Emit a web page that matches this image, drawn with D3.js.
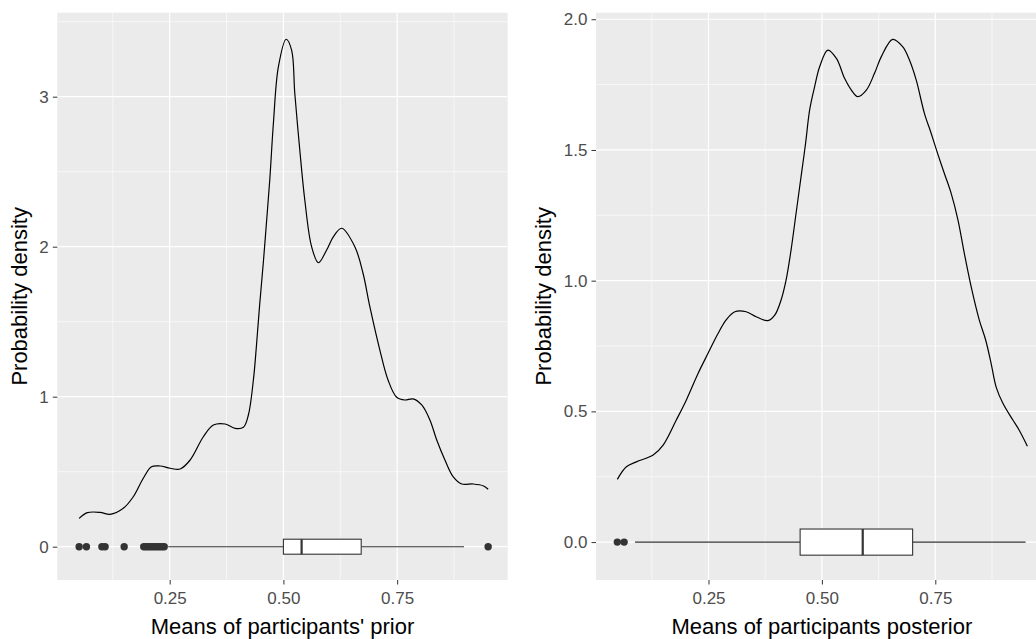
<!DOCTYPE html>
<html>
<head>
<meta charset="utf-8">
<script src="https://cdn.jsdelivr.net/npm/d3@7"></script>
<style>
	body { margin: 0; background: #fff; }
	svg { display: block; font-family: "Liberation Sans", Arial, sans-serif; }
	.axis text { fill: #4d4d4d; font-size: 17px; }
	.axis line { stroke: #333; }
	.axis path { display: none; }
	.title { fill: #000; font-size: 22px; }
</style>
</head>
<body>
<div id="chart"></div>
<script>

// left panel: participants' prior
var priorX = [0.051, 0.069, 0.097, 0.119, 0.148, 0.170, 0.192, 0.210, 0.229, 0.251, 0.273, 0.295, 0.324, 0.346, 0.372, 0.394, 0.412, 0.423, 0.434, 0.441, 0.448, 0.456, 0.463, 0.470, 0.478, 0.489, 0.506, 0.518, 0.525, 0.536, 0.547, 0.562, 0.577, 0.595, 0.610, 0.628, 0.657, 0.675, 0.690, 0.712, 0.730, 0.749, 0.767, 0.785, 0.804, 0.822, 0.837, 0.855, 0.873, 0.892, 0.917, 0.940, 0.950];
var priorDensity = [0.189, 0.227, 0.229, 0.216, 0.256, 0.333, 0.456, 0.533, 0.538, 0.523, 0.518, 0.578, 0.733, 0.811, 0.818, 0.789, 0.796, 0.878, 1.111, 1.350, 1.620, 1.900, 2.170, 2.445, 2.823, 3.200, 3.383, 3.311, 3.023, 2.645, 2.311, 2.000, 1.893, 1.978, 2.067, 2.123, 2.000, 1.823, 1.600, 1.311, 1.111, 0.996, 0.978, 0.985, 0.945, 0.845, 0.711, 0.578, 0.467, 0.418, 0.418, 0.405, 0.383];
var priorBox = [0.247, 0.500, 0.540, 0.671, 0.897]; // whisker low, q1, median, q3, whisker high
var priorOutliers = [0.051, 0.067, 0.101, 0.108, 0.150, 0.193, 0.198, 0.203, 0.208, 0.213, 0.218, 0.223, 0.228, 0.233, 0.238, 0.950];

// right panel: participants' posterior
var postX = [0.049, 0.069, 0.091, 0.128, 0.150, 0.179, 0.201, 0.227, 0.249, 0.271, 0.289, 0.308, 0.333, 0.355, 0.381, 0.396, 0.410, 0.421, 0.432, 0.443, 0.454, 0.464, 0.473, 0.484, 0.495, 0.513, 0.532, 0.550, 0.565, 0.579, 0.598, 0.616, 0.631, 0.656, 0.678, 0.693, 0.708, 0.726, 0.741, 0.755, 0.770, 0.785, 0.800, 0.814, 0.829, 0.847, 0.861, 0.873, 0.884, 0.899, 0.921, 0.935, 0.953];
var postDensity = [0.240, 0.288, 0.307, 0.333, 0.371, 0.467, 0.543, 0.645, 0.722, 0.798, 0.850, 0.881, 0.881, 0.862, 0.847, 0.868, 0.926, 1.002, 1.117, 1.257, 1.397, 1.525, 1.653, 1.742, 1.818, 1.882, 1.850, 1.774, 1.729, 1.704, 1.729, 1.793, 1.857, 1.923, 1.895, 1.844, 1.767, 1.640, 1.563, 1.487, 1.410, 1.334, 1.232, 1.104, 0.977, 0.849, 0.773, 0.684, 0.594, 0.531, 0.467, 0.428, 0.367];
var postBox = [0.088, 0.452, 0.590, 0.700, 0.949];
var postOutliers = [0.049, 0.064];

var xTicks = [0.25, 0.50, 0.75];
var xMinor = [0.125, 0.375, 0.625, 0.875];
var priorYTicks = [0, 1, 2, 3];
var priorYMinor = [0.5, 1.5, 2.5, 3.5];
var postYTicks = [0, 0.5, 1.0, 1.5, 2.0];
var postYMinor = [0.25, 0.75, 1.25, 1.75];

var boxHalf = 0.05;

var svg = d3.select("#chart")
	.append("svg")
		.attr("width", 1036)
		.attr("height", 639);


function panel(opts) {

	var xScale = d3.scaleLinear().domain(opts.xDomain).range([opts.left, opts.right]);
	var yScale = d3.scaleLinear().domain(opts.yDomain).range([opts.bottom, opts.top]);

	var g = svg.append("g");

	g.append("clipPath")
		.attr("id", opts.id + "-clip")
		.append("rect")
			.attr("x", opts.left)
			.attr("y", opts.top)
			.attr("width", opts.right - opts.left)
			.attr("height", opts.bottom - opts.top);

	g.append("rect")
		.attr("x", opts.left)
		.attr("y", opts.top)
		.attr("width", opts.right - opts.left)
		.attr("height", opts.bottom - opts.top)
		.attr("fill", "#ebebeb");

	var grid = g.append("g").attr("clip-path", "url(#" + opts.id + "-clip)");

	grid.selectAll(".xminor").data(xMinor).enter().append("line")
		.attr("x1", function(d) { return xScale(d); })
		.attr("x2", function(d) { return xScale(d); })
		.attr("y1", opts.top).attr("y2", opts.bottom)
		.attr("stroke", "#fff").attr("stroke-width", 0.6);

	grid.selectAll(".yminor").data(opts.yMinor).enter().append("line")
		.attr("y1", function(d) { return yScale(d); })
		.attr("y2", function(d) { return yScale(d); })
		.attr("x1", opts.left).attr("x2", opts.right)
		.attr("stroke", "#fff").attr("stroke-width", 0.6);

	grid.selectAll(".xmajor").data(xTicks).enter().append("line")
		.attr("x1", function(d) { return xScale(d); })
		.attr("x2", function(d) { return xScale(d); })
		.attr("y1", opts.top).attr("y2", opts.bottom)
		.attr("stroke", "#fff").attr("stroke-width", 1.2);

	grid.selectAll(".ymajor").data(opts.yTicks).enter().append("line")
		.attr("y1", function(d) { return yScale(d); })
		.attr("y2", function(d) { return yScale(d); })
		.attr("x1", opts.left).attr("x2", opts.right)
		.attr("stroke", "#fff").attr("stroke-width", 1.2);

	var plot = g.append("g").attr("clip-path", "url(#" + opts.id + "-clip)");

	// density curve
	var line = d3.line()
		.x(function(d) { return xScale(d[0]); })
		.y(function(d) { return yScale(d[1]); })
		.curve(d3.curveCatmullRom);

	plot.append("path")
		.datum(d3.zip(opts.xs, opts.ys))
		.attr("d", line)
		.attr("fill", "none")
		.attr("stroke", "#000")
		.attr("stroke-width", 1.2);

	// boxplot
	var b = opts.box;
	plot.append("line")
		.attr("x1", xScale(b[0])).attr("x2", xScale(b[1]))
		.attr("y1", yScale(0)).attr("y2", yScale(0))
		.attr("stroke", "#333").attr("stroke-width", 1.1);
	plot.append("line")
		.attr("x1", xScale(b[3])).attr("x2", xScale(b[4]))
		.attr("y1", yScale(0)).attr("y2", yScale(0))
		.attr("stroke", "#333").attr("stroke-width", 1.1);
	plot.append("rect")
		.attr("x", xScale(b[1]))
		.attr("y", yScale(boxHalf))
		.attr("width", xScale(b[3]) - xScale(b[1]))
		.attr("height", yScale(-boxHalf) - yScale(boxHalf))
		.attr("fill", "#fff")
		.attr("stroke", "#333").attr("stroke-width", 1.1);
	plot.append("line")
		.attr("x1", xScale(b[2])).attr("x2", xScale(b[2]))
		.attr("y1", yScale(boxHalf)).attr("y2", yScale(-boxHalf))
		.attr("stroke", "#333").attr("stroke-width", 2.2);

	plot.selectAll(".outlier").data(opts.outliers).enter().append("circle")
		.attr("cx", function(d) { return xScale(d); })
		.attr("cy", yScale(0))
		.attr("r", 3.7)
		.attr("fill", "#333");

	// axes
	var xAxis = d3.axisBottom(xScale).tickValues(xTicks).tickSize(4.5).tickPadding(7)
		.tickFormat(d3.format(".2f"));
	g.append("g")
		.attr("class", "axis")
		.attr("transform", "translate(0," + opts.bottom + ")")
		.call(xAxis);

	var yAxis = d3.axisLeft(yScale).tickValues(opts.yTicks).tickSize(4.5).tickPadding(4)
		.tickFormat(d3.format(opts.yFormat));
	g.append("g")
		.attr("class", "axis")
		.attr("transform", "translate(" + opts.left + ",0)")
		.call(yAxis);

	g.append("text")
		.attr("class", "title")
		.attr("x", (opts.left + opts.right) / 2)
		.attr("y", 634)
		.attr("text-anchor", "middle")
		.text(opts.xTitle);

	g.append("text")
		.attr("class", "title")
		.attr("transform", "translate(" + opts.yTitleX + "," + ((opts.top + opts.bottom) / 2) + ") rotate(-90)")
		.attr("text-anchor", "middle")
		.text("Probability density");
}


panel({
	id: "prior",
	left: 57.3, right: 507.7, top: 12.7, bottom: 580,
	xDomain: [0.003, 0.993], yDomain: [-0.222, 3.56],
	xs: priorX, ys: priorDensity,
	box: priorBox, outliers: priorOutliers,
	yTicks: priorYTicks, yMinor: priorYMinor, yFormat: "d",
	xTitle: "Means of participants' prior",
	yTitleX: 27
});

panel({
	id: "post",
	left: 596, right: 1047.8, top: 12.7, bottom: 580,
	xDomain: [0.002, 0.998], yDomain: [-0.145, 2.025],
	xs: postX, ys: postDensity,
	box: postBox, outliers: postOutliers,
	yTicks: postYTicks, yMinor: postYMinor, yFormat: ".1f",
	xTitle: "Means of participants posterior",
	yTitleX: 551
});

</script>
</body>
</html>
